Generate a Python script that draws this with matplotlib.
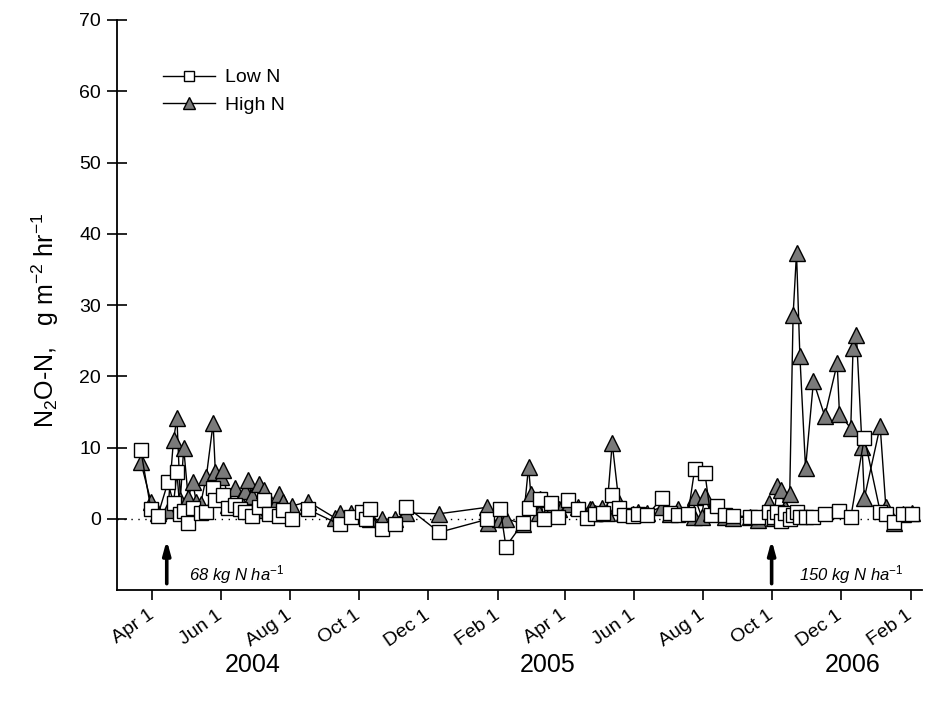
import matplotlib
matplotlib.use("Agg")
import matplotlib.pyplot as plt
import matplotlib.dates as mdates
import pandas as pd
from matplotlib.ticker import FuncFormatter

low_dates = ["2004-03-22","2004-03-31","2004-04-06","2004-04-15","2004-04-20","2004-04-23","2004-04-26","2004-04-29",
             "2004-05-03","2004-05-07","2004-05-14","2004-05-19","2004-05-25","2004-05-27","2004-06-03","2004-06-07",
             "2004-06-13","2004-06-18","2004-06-22","2004-06-28","2004-07-05","2004-07-09","2004-07-13","2004-07-22",
             "2004-07-26","2004-08-03","2004-08-17","2004-09-14","2004-09-24","2004-10-04","2004-10-07","2004-10-11",
             "2004-10-21","2004-11-02","2004-11-12","2004-12-11","2005-01-22","2005-02-03","2005-02-08","2005-02-23",
             "2005-02-28","2005-03-10","2005-03-14","2005-03-20","2005-03-26","2005-04-04","2005-04-13","2005-04-21",
             "2005-04-28","2005-05-05","2005-05-13","2005-05-19","2005-05-23","2005-05-31","2005-06-05","2005-06-13",
             "2005-06-26","2005-07-03","2005-07-10","2005-07-19","2005-07-25","2005-08-03","2005-08-08","2005-08-14",
             "2005-08-21","2005-08-28","2005-09-12","2005-09-19","2005-09-29","2005-10-03","2005-10-06","2005-10-09",
             "2005-10-13","2005-10-17","2005-10-20","2005-10-23","2005-10-26","2005-10-31","2005-11-07","2005-11-17",
             "2005-11-30","2005-12-10","2005-12-22","2006-01-05","2006-01-10","2006-01-17","2006-01-25","2006-02-02"]
low_vals = [9.7, 1.3, 0.4, 5.1, 2.2, 6.5, 0.6, 1.1,
            -0.6, 1.5, 0.8, 1.0, 4.3, 2.7, 3.4, 1.5,
            2.0, 1.3, 1.0, 0.4, 1.7, 2.7, 0.6, 0.4,
            1.2, -0.1, 1.3, -0.8, 0.3, 1.0, -0.1, 1.3,
            -1.5, -0.8, 1.7, -1.9, -0.1, 1.4, -3.9, -0.6,
            1.5, 2.8, -0.1, 2.2, 0.3, 2.6, 1.3, 0.1,
            0.6, 0.8, 3.4, 1.5, 0.5, 0.4, 0.6, 0.5,
            2.9, 0.8, 0.5, 0.6, 7.0, 6.4, 0.5, 1.8,
            0.5, 0.4, 0.3, 0.2, 0.9, 0.3, 1.0, -0.3,
            0.8, -0.1, 0.5, 1.0, 0.3, 0.3, 0.3, 0.6,
            1.1, 0.2, 11.4, 1.0, 0.6, -0.5, 0.6, 0.6]

high_dates = ["2004-03-22","2004-03-31","2004-04-06","2004-04-15","2004-04-20","2004-04-23","2004-04-26","2004-04-29",
              "2004-05-03","2004-05-07","2004-05-10","2004-05-14","2004-05-19","2004-05-25","2004-05-27","2004-06-01",
              "2004-06-03","2004-06-07","2004-06-13","2004-06-18","2004-06-22","2004-06-25","2004-06-28","2004-07-02",
              "2004-07-05","2004-07-09","2004-07-13","2004-07-19","2004-07-22","2004-07-26","2004-08-03","2004-08-17",
              "2004-09-10","2004-09-14","2004-09-24","2004-10-07","2004-10-11","2004-10-21","2004-11-02","2004-11-12",
              "2004-12-11","2005-01-22","2005-01-23","2005-02-03","2005-02-08","2005-02-23","2005-02-28","2005-03-02",
              "2005-03-09","2005-03-10","2005-03-19","2005-03-27","2005-03-31","2005-04-05","2005-04-13","2005-04-23",
              "2005-04-25","2005-04-28","2005-05-04","2005-05-08","2005-05-13","2005-05-19","2005-05-23","2005-05-31",
              "2005-06-05","2005-06-13","2005-06-26","2005-07-03","2005-07-10","2005-07-19","2005-07-24","2005-07-25",
              "2005-07-31","2005-08-03","2005-08-08","2005-08-14","2005-08-21","2005-08-28","2005-09-12","2005-09-19",
              "2005-09-29","2005-10-03","2005-10-06","2005-10-09","2005-10-13","2005-10-17","2005-10-20","2005-10-23",
              "2005-10-26","2005-10-31","2005-11-07","2005-11-17","2005-11-28","2005-11-30","2005-12-10","2005-12-12",
              "2005-12-15","2005-12-20","2005-12-22","2006-01-05","2006-01-10","2006-01-17","2006-01-25","2006-02-02"]
high_vals = [8.0, 2.4, 0.8, 1.2, 11.1, 14.1, 2.7, 9.9,
             2.9, 5.2, 2.4, 2.1, 5.9, 13.4, 6.5, 5.9,
             6.9, 2.0, 4.3, 2.7, 3.9, 5.5, 3.2, 1.2,
             4.9, 4.1, 1.6, 2.0, 3.5, 2.4, 1.8, 2.4,
             0.1, 0.8, 0.8, 1.0, -0.1, -0.1, 0.0, 0.8,
             0.7, 1.6, -0.6, 0.0, 0.0, -0.7, 7.3, 3.5,
             0.8, 2.8, 1.6, 1.3, 2.2, 2.1, 1.6, 1.4,
             1.3, 0.8, 1.5, 0.8, 10.6, 2.2, 0.8, 0.6,
             0.9, 0.8, 1.7, 0.6, 1.3, 0.8, 0.3, 3.0,
             0.3, 3.2, 0.8, 0.8, 0.3, 0.1, 0.3, -0.2,
             2.2, 0.1, 4.6, 4.1, 1.5, 3.5, 28.6, 37.3,
             22.8, 7.1, 19.3, 14.4, 21.8, 14.7, 12.7, 23.9,
             25.8, 10.1, 2.9, 13.0, 1.7, -0.6, 0.6, 0.8]

series_labels = ["Low N", "High N"]
fert_dates = ["2004-04-14", "2005-10-01"]
fert_labels = ["68 kg N ha$^{-1}$", "150 kg N ha$^{-1}$"]
fert_text_dates = ["2004-05-04", "2005-10-25"]
year_labels = ["2004", "2005", "2006"]

plt.rcParams['font.family'] = ['Liberation Sans', 'DejaVu Sans']
plt.rcParams['mathtext.fontset'] = 'custom'
plt.rcParams['mathtext.rm'] = 'Liberation Sans'
plt.rcParams['mathtext.it'] = 'Liberation Sans:italic'

fig = plt.figure(figsize=(9.26, 7.05), dpi=100)
ax = fig.add_axes([117/926, 115/705, (922-117)/926, (590-20)/705])

ld = pd.to_datetime(low_dates)
hd = pd.to_datetime(high_dates)

ax.axhline(0, color='black', lw=1.0, ls=(0, (1, 4)), zorder=1)

ax.plot(hd, high_vals, color='black', lw=1.0, marker='^', ms=11,
        mfc='#7a7a7a', mec='black', mew=1.0, label=series_labels[1], zorder=3)
ax.plot(ld, low_vals, color='black', lw=1.0, marker='s', ms=9.5,
        mfc='white', mec='black', mew=1.0, label=series_labels[0], zorder=4)

ax.set_xlim(pd.Timestamp("2004-03-01"), pd.Timestamp("2006-02-11"))
ax.set_ylim(-10, 70)
ax.set_yticks(range(0, 71, 10))

ax.xaxis.set_major_locator(mdates.MonthLocator(bymonth=[2, 4, 6, 8, 10, 12]))
ax.xaxis.set_major_formatter(FuncFormatter(lambda v, p: mdates.num2date(v).strftime('%b') + ' 1'))
plt.setp(ax.get_xticklabels(), rotation=35, ha='right', va='center', rotation_mode='anchor')

ax.tick_params(axis='both', width=1.2, labelsize=14, colors='black')
ax.tick_params(axis='y', direction='inout', length=15, pad=4)
ax.tick_params(axis='x', direction='out', length=7, pad=10)
for s in ['top', 'right']:
    ax.spines[s].set_visible(False)
for s in ['left', 'bottom']:
    ax.spines[s].set_linewidth(1.3)

for d, lab, td in zip(fert_dates, fert_labels, fert_text_dates):
    dd = pd.Timestamp(d)
    ax.annotate('', xy=(dd, -2.6), xytext=(dd, -9.5),
                arrowprops=dict(arrowstyle='-|>,head_length=0.8,head_width=0.22', color='black', lw=2.6))
    ax.text(pd.Timestamp(td), -7.9, lab, fontsize=12, style='italic', ha='left', va='center')

handles, labels = ax.get_legend_handles_labels()
leg = ax.legend(handles[::-1], labels[::-1], loc='upper left', bbox_to_anchor=(0.035, 0.945),
                frameon=False, fontsize=14, handlelength=2.7, markerscale=0.75, labelspacing=0.5,
                handletextpad=0.5)

fig.text(45/926, 1 - 320/705, "N$_2$O-N,   g m$^{-2}$ hr$^{-1}$", rotation=90,
         ha='center', va='center', fontsize=18)

for yl, xp in zip(year_labels, [253, 548, 853]):
    fig.text(xp/926, 1 - 665/705, yl, ha='center', va='center', fontsize=18)

fig.savefig("out.png", dpi=100)
